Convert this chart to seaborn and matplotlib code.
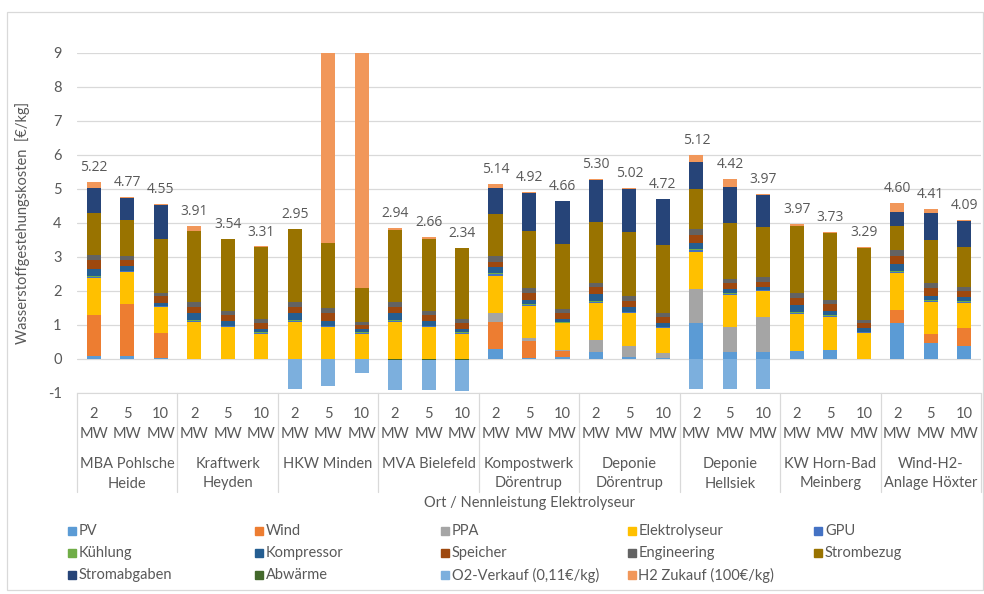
import numpy as np
import pandas as pd
import seaborn as sns
import matplotlib.pyplot as plt
from matplotlib.patches import Rectangle

# Categories
groups = ["MBA Pohlsche\nHeide", "Kraftwerk\nHeyden", "HKW Minden", "MVA Bielefeld",
          "Kompostwerk\nDörentrup", "Deponie\nDörentrup", "Deponie\nHellsiek",
          "KW Horn-Bad\nMeinberg", "Wind-H2-\nAnlage Höxter"]
sizes = ["2\nMW", "5\nMW", "10\nMW"]

# Cost components [€/kg], 27 bars (9 sites x 3 electrolyser sizes)
pv = [0.10, 0.10, 0.02, 0, 0, 0, 0, 0, 0, 0, 0, 0,
      0.29, 0.02, 0.05, 0.20, 0.05, 0.02, 1.05, 0.20, 0.20, 0.25, 0.26, 0, 1.05, 0.46, 0.39]
wind = [1.19, 1.51, 0.75, 0, 0, 0, 0, 0, 0, 0, 0, 0,
        0.81, 0.51, 0.20, 0, 0, 0, 0, 0, 0, 0, 0, 0, 0.39, 0.28, 0.53]
ppa = [0, 0, 0, 0, 0, 0, 0, 0, 0, 0, 0, 0,
       0.24, 0.08, 0.02, 0.36, 0.34, 0.15, 1.01, 0.73, 1.05, 0, 0, 0, 0, 0, 0]
elektrolyseur = [1.08, 0.95, 0.75, 1.10, 0.95, 0.75, 1.10, 0.95, 0.75, 1.10, 0.95, 0.75,
                 1.11, 0.96, 0.78, 1.10, 0.95, 0.75, 1.10, 0.95, 0.75, 1.07, 0.97, 0.77, 1.08, 0.95, 0.74]
gpu = [0.03, 0.02, 0.03, 0.03, 0.02, 0.02, 0.03, 0.02, 0.02, 0.03, 0.02, 0.02,
       0.04, 0.03, 0.02, 0.03, 0.03, 0.02, 0.04, 0.03, 0.02, 0.04, 0.03, 0.02, 0.05, 0.03, 0.03]
kuehlung = [0.04, 0.02, 0.02, 0.02, 0.01, 0.02, 0.02, 0.01, 0.01, 0.02, 0.01, 0.01,
            0.03, 0.02, 0.01, 0.02, 0.01, 0.01, 0.03, 0.02, 0.01, 0.03, 0.02, 0.01, 0.03, 0.02, 0.02]
kompressor = [0.20, 0.14, 0.07, 0.19, 0.14, 0.09, 0.19, 0.15, 0.09, 0.19, 0.14, 0.09,
              0.18, 0.13, 0.09, 0.20, 0.14, 0.10, 0.17, 0.12, 0.08, 0.20, 0.13, 0.10, 0.19, 0.12, 0.10]
speicher = [0.27, 0.17, 0.21, 0.19, 0.17, 0.17, 0.20, 0.21, 0.13, 0.20, 0.18, 0.18,
            0.16, 0.18, 0.17, 0.20, 0.19, 0.18, 0.24, 0.18, 0.16, 0.19, 0.20, 0.15, 0.24, 0.22, 0.19]
engineering = [0.16, 0.12, 0.10, 0.16, 0.13, 0.12, 0.15, 0.17, 0.10, 0.15, 0.12, 0.12,
               0.17, 0.15, 0.12, 0.14, 0.14, 0.11, 0.17, 0.13, 0.13, 0.17, 0.14, 0.10, 0.18, 0.15, 0.11]
strombezug = [1.21, 1.06, 1.57, 2.08, 2.10, 2.11, 2.12, 1.91, 0.98, 2.10, 2.12, 2.09,
              1.23, 1.68, 1.91, 1.79, 1.90, 2.00, 1.19, 1.63, 1.47, 1.97, 1.97, 2.11, 0.70, 1.26, 1.19]
stromabgaben = [0.76, 0.64, 1.02, 0, 0, 0, 0, 0, 0, 0, 0, 0,
                0.78, 1.12, 1.28, 1.21, 1.25, 1.37, 0.80, 1.08, 0.95, 0, 0, 0, 0.42, 0.79, 0.75]
abwaerme = [0, 0, 0, 0, 0, 0, 0, 0, 0, -0.04, -0.04, -0.04,
            0, 0, 0, 0, 0, 0, 0, 0, 0, 0, 0, 0, 0, 0, 0]
o2_verkauf = [0, 0, 0, 0, 0, 0, -0.87, -0.80, -0.42, -0.88, -0.88, -0.89,
              0, 0, 0, 0, 0, 0, -0.87, -0.87, -0.87, 0, 0, 0, 0, 0, 0]
h2_zukauf = [0.18, 0.04, 0.01, 0.14, 0.02, 0.03, 0.01, 30.0, 40.0, 0.07, 0.04, 0.01,
             0.10, 0.04, 0.01, 0.05, 0.02, 0.01, 0.19, 0.22, 0.02, 0.05, 0.01, 0.03, 0.27, 0.13, 0.04]

pos_names = ["PV", "Wind", "PPA", "Elektrolyseur", "GPU", "Kühlung", "Kompressor", "Speicher",
             "Engineering", "Strombezug", "Stromabgaben", "H2 Zukauf (100€/kg)"]
pos_vals = [pv, wind, ppa, elektrolyseur, gpu, kuehlung, kompressor, speicher,
            engineering, strombezug, stromabgaben, h2_zukauf]

colors = {
    "PV": "#5B9BD5", "Wind": "#ED7D31", "PPA": "#A5A5A5", "Elektrolyseur": "#FFC000",
    "GPU": "#4472C4", "Kühlung": "#70AD47", "Kompressor": "#255E91", "Speicher": "#9E480E",
    "Engineering": "#636363", "Strombezug": "#997300", "Stromabgaben": "#264478",
    "Abwärme": "#43682B", "O2-Verkauf (0,11€/kg)": "#7CAFDD", "H2 Zukauf (100€/kg)": "#F1975A",
}
legend_order = ["PV", "Wind", "PPA", "Elektrolyseur", "GPU",
                "Kühlung", "Kompressor", "Speicher", "Engineering", "Strombezug",
                "Stromabgaben", "Abwärme", "O2-Verkauf (0,11€/kg)", "H2 Zukauf (100€/kg)"]

bar_ids = [f"{g}|{s}" for g in groups for s in sizes]

sns.set_style("white")
plt.rcParams["font.family"] = ["Lato", "DejaVu Sans"]
plt.rcParams["axes.unicode_minus"] = False
txt = "#595959"
grid = "#D9D9D9"

W, H = 984, 594
fig = plt.figure(figsize=(W / 100, H / 100), dpi=100)
ax = fig.add_axes([77 / W, 1 - 393 / H, (981 - 77) / W, 340 / H])

# stacked bars drawn as overlapping cumulative sums (top segment first)
cum = np.cumsum(np.array(pos_vals, dtype=float), axis=0)
for k in range(len(pos_names) - 1, -1, -1):
    sns.barplot(x=bar_ids, y=cum[k], order=bar_ids, color=colors[pos_names[k]],
                saturation=1, width=0.42, linewidth=0, ax=ax)
neg_total = np.array(abwaerme) + np.array(o2_verkauf)
sns.barplot(x=bar_ids, y=neg_total, order=bar_ids, color=colors["O2-Verkauf (0,11€/kg)"],
            saturation=1, width=0.42, linewidth=0, ax=ax)
sns.barplot(x=bar_ids, y=abwaerme, order=bar_ids, color=colors["Abwärme"],
            saturation=1, width=0.42, linewidth=0, ax=ax)

ax.set_xlim(-0.5, len(bar_ids) - 0.5)
ax.set_ylim(-1, 9)
ax.set_yticks(range(-1, 10))
ax.set_xticks([])
ax.set_xlabel("")
ax.set_ylabel("")
ax.grid(axis="y", color=grid, lw=0.9)
ax.set_axisbelow(True)
for s in ["top", "right", "left"]:
    ax.spines[s].set_visible(False)
ax.spines["bottom"].set_color(grid)
ax.tick_params(axis="y", length=0, pad=11, labelsize=10.5, labelcolor=txt)

# data labels (net total)
net = np.array(pos_vals).sum(axis=0) + neg_total
for i, (top, v) in enumerate(zip(cum[-1], net)):
    if top < 9:
        ax.annotate(f"{v:.2f}", (i, top), xytext=(0, 5), textcoords="offset points",
                    ha="center", va="bottom", fontsize=10, color=txt, family="Open Sans")

# multi-level category axis
tr = ax.get_xaxis_transform()
f = lambda py: (393 - py) / 340
for gi, g in enumerate(groups):
    for si, s in enumerate(sizes):
        n, u = s.split("\n")
        ax.text(gi * 3 + si, f(414), n, transform=tr, ha="center", va="center",
                fontsize=10.5, color=txt, clip_on=False)
        ax.text(gi * 3 + si, f(434), u, transform=tr, ha="center", va="center",
                fontsize=10.5, color=txt, clip_on=False)
    for li, line in enumerate(g.split("\n")):
        ax.text(gi * 3 + 1, f(464 + 19.5 * li), line, transform=tr, ha="center",
                va="center", fontsize=10.5, color=txt, clip_on=False)
for b in range(len(groups) + 1):
    ax.plot([b * 3 - 0.5] * 2, [0, f(492)], transform=tr, color=grid, lw=0.9, clip_on=False)
ax.text(13, f(503), "Ort / Nennleistung Elektrolyseur", transform=tr, ha="center",
        va="center", fontsize=10.5, color=txt)

fig.text(23 / W, 1 - 223 / H, "Wasserstoffgestehungskosten  [€/kg]", rotation=90,
         ha="center", va="center", fontsize=10.5, color=txt)

# legend (5 columns, row-major like the original)
for i, name in enumerate(legend_order):
    r, c = divmod(i, 5)
    cx, cy = 72 + c * 186.5, 531 + r * 22
    fig.patches.append(Rectangle(((cx - 4) / W, 1 - (cy + 4) / H), 8 / W, 8 / H,
                                 transform=fig.transFigure, color=colors[name]))
    fig.text((cx + 7) / W, 1 - cy / H, name, ha="left", va="center",
             fontsize=10.5, color=txt)

fig.patches.append(Rectangle((7 / W, 4 / H), 976 / W, 578 / H, transform=fig.transFigure,
                             fill=False, edgecolor=grid, lw=0.9))

fig.savefig("out.png", dpi=100)
